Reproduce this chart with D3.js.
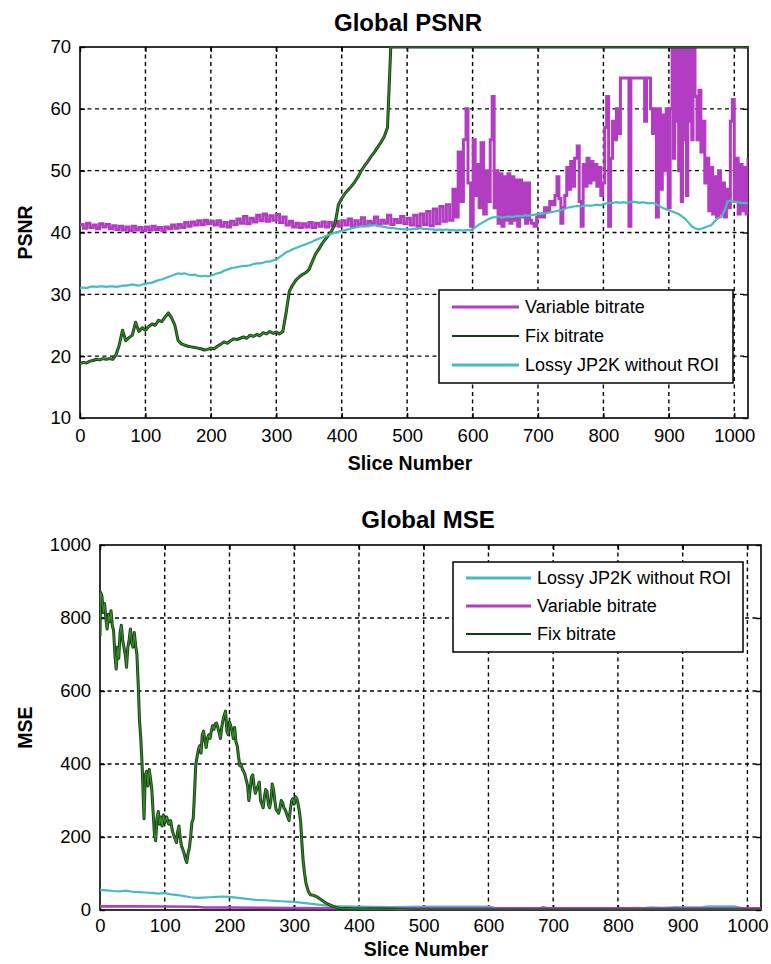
<!DOCTYPE html>
<html>
<head>
<meta charset="utf-8">
<script src="https://cdn.jsdelivr.net/npm/d3@7"></script>
<style>
  html, body { margin: 0; padding: 0; background: #fff; }
  svg { display: block; }
  text { font-family: "Liberation Sans", Arial, sans-serif; fill: #000; }
</style>
</head>
<body>
<svg id="chart" width="771" height="964"></svg>
<script>
// ---------------- DATA ----------------
const sliceTicks = [0, 100, 200, 300, 400, 500, 600, 700, 800, 900, 1000];
const psnrTicks = [10, 20, 30, 40, 50, 60, 70];
const mseTicks = [0, 200, 400, 600, 800, 1000];
const sliceDomain = [0, 1021];

// Global PSNR: [slice, PSNR dB]
const varPSNR = [
  [0,41.3],[5,40.7],[10,41.5],[15,40.8],[20,41.2],[25,40.6],[30,41.4],[35,40.9],[40,41.3],[45,40.6],
  [50,41.1],[55,40.5],[60,41.0],[65,40.4],[70,40.9],[75,40.3],[80,41.0],[85,40.4],[90,40.8],[95,40.3],
  [100,40.9],[105,40.4],[110,41.0],[115,40.5],[120,40.8],[125,40.3],[130,40.9],[135,40.6],[140,41.2],[145,40.7],
  [150,41.3],[155,40.8],[160,41.6],[165,41.0],[170,41.7],[175,41.2],[180,41.9],[185,41.3],[190,42.0],[195,41.4],
  [200,41.8],[205,41.2],[210,41.9],[215,41.0],[220,41.6],[225,40.9],[230,41.8],[235,41.3],[240,42.2],[245,41.5],
  [250,42.6],[255,41.4],[260,42.3],[265,41.7],[270,42.8],[275,41.9],[280,43.0],[285,41.8],[290,42.7],[295,42.0],
  [300,42.9],[305,41.6],[310,42.5],[315,41.2],[320,41.8],[325,40.9],[330,41.5],[335,40.8],[340,41.4],[345,40.9],
  [350,41.6],[355,40.8],[360,41.5],[365,41.0],[370,41.7],[375,40.9],[380,41.6],[385,41.1],[390,41.8],[395,41.0],
  [400,41.9],[405,41.2],[410,42.2],[415,41.0],[420,41.9],[425,41.3],[430,42.4],[435,41.1],[440,41.8],[445,41.4],
  [450,42.5],[455,41.2],[460,42.0],[465,41.5],[470,42.8],[475,41.3],[480,42.1],[485,41.6],[490,42.6],[495,41.4],
  [500,42.3],[505,41.2],[510,42.8],[515,41.0],[520,43.0],[525,41.3],[530,43.4],[535,41.1],[540,43.8],[545,41.4],
  [550,44.2],[555,41.8],[560,44.5],[565,42.0],[570,47.0],[574,42.5],[578,53.0],[582,45.0],[586,55.0],[590,60.0],
  [593,48.0],[597,41.0],[601,55.0],[604,46.0],[607,51.0],[610,44.0],[613,54.5],[617,43.0],[621,50.0],[624,45.0],
  [627,55.0],[630,62.0],[633,44.0],[636,50.0],[639,41.5],[642,49.5],[645,41.0],[648,49.0],[651,42.0],[654,49.5],
  [657,41.5],[660,49.0],[663,42.0],[666,48.5],[669,41.0],[672,48.5],[675,42.5],[678,48.0],[681,41.5],[684,48.0],
  [687,42.0],[690,41.5],[694,41.0],[698,42.5],[702,43.0],[706,42.5],[710,44.0],[714,43.5],[718,45.0],[722,44.5],
  [726,46.0],[729,49.0],[732,45.5],[735,41.5],[738,44.0],[741,46.0],[744,50.5],[747,47.0],[750,51.5],[753,47.5],
  [756,52.0],[760,54.0],[763,45.0],[766,41.0],[769,51.0],[772,47.5],[775,52.0],[778,48.0],[781,51.5],[784,48.5],
  [787,51.0],[790,47.5],[793,50.5],[796,46.0],[799,48.0],[802,57.0],[805,62.0],[808,41.0],[811,52.0],[814,58.0],
  [817,55.0],[820,60.0],[823,56.0],[826,65.0],[836,65.0],[839,41.0],[842,65.0],[860,65.0],[863,58.0],[866,65.0],
  [869,65.0],[872,60.0],[875,56.0],[878,60.0],[881,42.5],[884,60.0],[887,47.0],[890,59.0],[893,50.0],[896,60.0],
  [899,44.0],[902,60.0],[905,70.0],[907,52.0],[909,70.0],[911,58.0],[913,70.0],[915,50.0],[917,70.0],[919,45.0],
  [921,70.0],[923,55.0],[925,70.0],[927,46.0],[929,70.0],[931,58.0],[933,70.0],[935,55.0],[937,70.0],[940,62.0],
  [943,55.0],[946,63.0],[949,53.0],[952,58.0],[955,48.0],[958,52.0],[961,43.5],[964,50.5],[967,43.0],[970,49.0],
  [973,42.5],[976,50.0],[979,43.0],[982,48.0],[985,42.5],[988,47.0],[991,44.0],[994,58.0],[997,61.5],[1000,45.0],
  [1003,52.0],[1006,43.0],[1009,51.0],[1012,43.5],[1015,50.5],[1018,43.0],[1021,52.0]
];

const fixPSNR = [
  [0,18.8],[5,19.0],[10,18.9],[15,19.2],[20,19.3],[25,19.5],[30,19.4],[35,19.6],[40,19.5],[45,19.6],
  [50,19.5],[55,20.2],[60,21.8],[65,24.2],[70,22.5],[75,23.0],[80,23.4],[85,25.5],[90,24.0],[95,24.6],
  [100,24.2],[105,24.8],[110,25.2],[115,25.0],[120,25.8],[125,25.6],[130,26.3],[135,27.0],[140,26.2],[145,25.0],
  [150,22.5],[155,22.0],[160,21.8],[165,21.6],[170,21.5],[175,21.4],[180,21.3],[185,21.2],[190,21.0],[195,21.1],
  [200,21.3],[205,21.2],[210,21.6],[215,21.9],[220,22.3],[225,22.1],[230,22.5],[235,22.8],[240,22.7],[245,22.9],
  [250,23.1],[255,22.9],[260,23.4],[265,23.2],[270,23.5],[275,23.3],[280,23.8],[285,23.6],[290,24.0],[295,23.7],
  [300,23.9],[305,23.6],[310,24.0],[315,27.0],[320,30.5],[325,31.5],[330,32.3],[335,32.8],[340,33.2],[345,33.5],
  [350,34.0],[355,35.3],[360,36.5],[365,37.3],[370,38.2],[375,38.9],[380,39.6],[385,40.3],[390,41.5],[395,44.5],
  [400,45.5],[405,46.3],[410,46.9],[415,47.5],[420,48.2],[425,49.0],[430,50.0],[435,50.8],[440,51.5],[445,52.3],
  [450,53.0],[455,53.8],[460,54.6],[465,55.5],[470,57.0],[475,70.0],[1021,70.0]
];

const lossyPSNR = [
  [0,31.0],[5,31.1],[10,31.0],[15,31.2],[20,31.3],[25,31.2],[30,31.3],[35,31.3],[40,31.2],[45,31.3],
  [50,31.3],[55,31.2],[60,31.3],[65,31.4],[70,31.4],[75,31.5],[80,31.6],[85,31.5],[90,31.4],[95,31.6],
  [100,31.7],[105,31.8],[110,31.9],[115,32.1],[120,32.3],[125,32.4],[130,32.6],[135,32.8],[140,33.0],[145,33.2],
  [150,33.4],[155,33.3],[160,33.4],[165,33.2],[170,33.1],[175,33.2],[180,33.0],[185,32.9],[190,33.0],[195,32.9],
  [200,33.0],[205,33.2],[210,33.4],[215,33.5],[220,33.8],[225,34.0],[230,34.2],[235,34.3],[240,34.4],[245,34.5],
  [250,34.6],[255,34.6],[260,34.7],[265,34.9],[270,35.0],[275,35.0],[280,35.1],[285,35.3],[290,35.3],[295,35.5],
  [300,35.6],[305,36.0],[310,36.4],[315,36.8],[320,37.0],[325,37.3],[330,37.5],[335,37.7],[340,37.9],[345,38.1],
  [350,38.3],[355,38.5],[360,38.8],[365,39.0],[370,39.2],[375,39.4],[380,39.6],[385,39.8],[390,40.0],[395,40.1],
  [400,40.3],[405,40.4],[410,40.5],[415,40.7],[420,40.8],[425,40.9],[430,41.0],[435,41.0],[440,41.1],[445,41.1],
  [450,41.2],[455,41.1],[460,41.0],[465,40.9],[470,40.8],[475,40.7],[480,40.7],[485,40.6],[490,40.6],[495,40.5],
  [500,40.5],[505,40.5],[510,40.6],[515,40.6],[520,40.7],[525,40.6],[530,40.6],[535,40.5],[540,40.5],[545,40.4],
  [550,40.5],[555,40.4],[560,40.5],[565,40.4],[570,40.4],[575,40.3],[580,40.4],[585,40.3],[590,40.4],[595,40.4],
  [600,40.5],[605,40.9],[610,41.3],[615,41.6],[620,41.9],[625,42.2],[630,42.4],[635,42.5],[640,42.6],[645,42.4],
  [650,42.5],[655,42.6],[660,42.5],[665,42.6],[670,42.7],[675,42.6],[680,42.8],[685,42.7],[690,42.8],[695,42.9],
  [700,43.0],[705,43.0],[710,43.1],[715,43.2],[720,43.3],[725,43.4],[730,43.5],[735,43.6],[740,43.8],[745,44.0],
  [750,44.1],[755,44.2],[760,44.3],[765,44.2],[770,44.3],[775,44.4],[780,44.3],[785,44.4],[790,44.5],[795,44.4],
  [800,44.6],[805,44.7],[810,44.8],[815,44.8],[820,44.9],[825,44.8],[830,44.9],[835,44.8],[840,44.9],[845,45.0],
  [850,44.9],[855,44.8],[860,44.9],[865,44.8],[870,44.7],[875,44.8],[880,44.6],[885,44.3],[890,44.0],[895,43.8],
  [900,43.6],[905,43.4],[910,43.2],[915,43.0],[920,42.6],[925,42.2],[930,41.6],[935,41.0],[940,40.7],[945,40.5],
  [950,40.6],[955,40.8],[960,41.0],[965,41.2],[970,41.8],[975,42.3],[980,42.5],[985,43.5],[990,45.0],[995,45.2],
  [1000,45.0],[1005,44.9],[1010,44.8],[1015,44.8],[1021,44.7]
];

// Global MSE: [slice, MSE]
const fixMSE = [
  [0,750],[1,870],[3,860],[5,815],[7,840],[9,800],[11,770],[13,810],[15,790],[17,820],[19,780],[21,765],
  [23,700],[25,660],[27,720],[29,690],[31,760],[33,780],[35,740],[37,720],[39,700],[41,665],[43,720],[45,740],
  [47,770],[49,730],[51,720],[53,760],[55,725],[57,700],[59,620],[61,520],[63,470],[65,400],[67,300],[68,250],
  [70,370],[72,380],[74,340],[76,385],[78,360],[80,330],[82,270],[84,210],[86,190],[88,250],[90,270],[92,235],
  [94,255],[96,230],[98,260],[100,240],[103,255],[106,235],[109,245],[112,215],[115,200],[118,185],[120,215],
  [122,230],[124,195],[126,175],[128,165],[130,155],[132,140],[134,130],[136,155],[138,170],[140,200],[142,240],
  [144,250],[146,320],[148,400],[150,420],[152,440],[154,450],[156,430],[158,480],[160,490],[162,465],[164,445],
  [166,470],[168,480],[170,470],[172,490],[174,505],[176,495],[178,510],[180,512],[182,500],[184,485],[186,470],
  [188,500],[190,520],[192,535],[194,545],[196,490],[198,480],[200,515],[202,505],[204,490],[206,470],[208,500],
  [210,460],[212,450],[214,420],[216,395],[218,400],[220,385],[222,380],[224,370],[226,355],[228,340],[230,300],
  [232,330],[234,365],[236,370],[238,340],[240,320],[242,330],[244,340],[246,350],[248,300],[250,290],[252,280],
  [254,310],[256,330],[258,325],[260,290],[262,280],[264,300],[266,345],[268,330],[270,300],[272,275],[274,270],
  [276,265],[278,280],[280,300],[282,295],[284,280],[286,275],[288,265],[290,255],[292,245],[294,275],[296,300],
  [298,305],[300,290],[302,310],[304,305],[306,290],[308,270],[310,240],[312,180],[314,130],[316,100],[318,75],
  [320,62],[322,50],[325,42],[330,40],[335,36],[340,30],[345,24],[350,18],[355,14],[360,10],[365,7],[370,5],
  [380,4],[390,3],[400,3],[420,2.5],[450,2],[470,1],[475,0],[1021,0]
];

const varMSE = [
  [0,10],[50,10],[100,9.5],[150,9],[160,7],[200,7],[250,6],[300,5.5],[350,5],[400,5],[450,5],
  [500,4.5],[600,4.5],[680,5],[685,7],[690,5],[800,4.5],[900,4.5],[1021,4.5]
];

const lossyMSE = [
  [0,55],[10,54],[20,52],[30,51],[40,53],[50,50],[60,49],[70,48],[80,47],[90,45],[100,46],[110,43],
  [120,41],[130,38],[140,35],[150,33],[160,34],[170,35],[180,36],[190,37],[200,36],[210,34],[220,32],
  [230,30],[240,28],[250,27],[260,26],[270,25],[280,24],[290,23],[300,22],[310,20],[320,18],[330,16],
  [340,14],[350,12],[360,11],[380,10],[400,9],[450,8],[500,9],[550,9],[600,9],[610,6],[650,5],[700,5],
  [750,5],[800,5],[830,6],[840,5],[850,7],[870,6],[890,8],[900,7],[930,8],[940,10],[980,10],[990,6],[1021,5]
];

const seriesNames = { variable: "Variable bitrate", fix: "Fix bitrate", lossy: "Lossy JP2K without ROI" };

// ---------------- STYLES ----------------
const COLORS = { variable: "#b23cc2", fixOuter: "#123d12", fixInner: "#3a8c2c", lossy: "#45bdbf" };
const FONT_TICK = 18.5, FONT_LABEL = 19.5, FONT_TITLE = 24, FONT_LEGEND = 18;

const svg = d3.select("#chart");

function drawPanel(cfg) {
  const { id, left, right, top, bottom, yDomain, yTicks, title, titleX, titleY, yLabel, yLabelX, xLabelX, xLabelY, tickPad, series, legend } = cfg;
  const x = d3.scaleLinear().domain(sliceDomain).range([left, right]);
  const y = d3.scaleLinear().domain(yDomain).range([bottom, top]);
  const g = svg.append("g");

  // grid
  const grid = g.append("g").attr("stroke", "#000").attr("stroke-width", 1.4).attr("stroke-dasharray", "4,3.5");
  grid.selectAll("line.v").data(sliceTicks.filter(t => t > sliceDomain[0] && t < sliceDomain[1]))
    .join("line").attr("x1", d => x(d)).attr("x2", d => x(d)).attr("y1", top).attr("y2", bottom);
  grid.selectAll("line.h").data(yTicks.filter(t => t > yDomain[0] && t < yDomain[1]))
    .join("line").attr("class", "h").attr("x1", left).attr("x2", right).attr("y1", d => y(d)).attr("y2", d => y(d));

  // axes
  g.append("g").attr("transform", `translate(0,${bottom})`)
    .call(d3.axisBottom(x).tickValues(sliceTicks).tickSize(-5).tickPadding(tickPad).tickFormat(d3.format("d")));
  g.append("g").attr("transform", `translate(${left},0)`)
    .call(d3.axisLeft(y).tickValues(yTicks).tickSize(-5).tickPadding(9).tickFormat(d3.format("d")));
  g.append("g").attr("transform", `translate(${right},0)`)
    .call(d3.axisRight(y).tickValues(yTicks).tickSize(-5).tickFormat(""));
  g.append("g").attr("transform", `translate(0,${top})`)
    .call(d3.axisTop(x).tickValues(sliceTicks).tickSize(-5).tickFormat(""));
  g.selectAll(".domain").remove();
  g.selectAll(".tick line").attr("stroke", "#000").attr("stroke-width", 1.4);
  g.selectAll(".tick text").attr("font-size", FONT_TICK).attr("font-family", "Liberation Sans, Arial, sans-serif").attr("fill", "#000");

  // box
  g.append("rect").attr("x", left).attr("y", top).attr("width", right - left).attr("height", bottom - top)
    .attr("fill", "none").attr("stroke", "#000").attr("stroke-width", 1.6);

  // clip
  svg.append("clipPath").attr("id", "clip-" + id).append("rect")
    .attr("x", left).attr("y", top).attr("width", right - left).attr("height", bottom - top);
  const plot = g.append("g").attr("clip-path", `url(#clip-${id})`);
  const line = d3.line().x(d => x(d[0])).y(d => y(Math.min(d[1], yDomain[1] + 1)));
  const stepLine = d3.line().curve(d3.curveStepAfter).x(d => x(d[0])).y(d => y(Math.min(d[1], yDomain[1] + 1)));

  series.forEach(s => {
    if (s.key === "fix") {
      plot.append("path").datum(s.data).attr("d", line).attr("fill", "none")
        .attr("stroke", COLORS.fixOuter).attr("stroke-width", 3).attr("stroke-linejoin", "round");
      plot.append("path").datum(s.data).attr("d", line).attr("fill", "none")
        .attr("stroke", COLORS.fixInner).attr("stroke-width", 1.2).attr("stroke-linejoin", "round");
    } else {
      plot.append("path").datum(s.data).attr("d", s.step ? stepLine : line).attr("fill", "none")
        .attr("stroke", COLORS[s.key]).attr("stroke-width", s.width).attr("stroke-linejoin", "miter");
    }
  });

  // titles
  g.append("text").attr("x", titleX).attr("y", titleY).attr("text-anchor", "middle")
    .attr("font-size", FONT_TITLE).attr("font-weight", "bold").text(title);
  g.append("text").attr("x", xLabelX).attr("y", xLabelY).attr("text-anchor", "middle")
    .attr("font-size", FONT_LABEL).attr("font-weight", "bold").text("Slice Number");
  g.append("text").attr("transform", `translate(${yLabelX},${(top + bottom) / 2}) rotate(-90)`)
    .attr("text-anchor", "middle").attr("font-size", FONT_LABEL).attr("font-weight", "bold").text(yLabel);

  // legend
  const lg = g.append("g");
  lg.append("rect").attr("x", legend.x).attr("y", legend.y).attr("width", legend.w).attr("height", legend.h)
    .attr("fill", "#fff").attr("stroke", "#000").attr("stroke-width", 1.5);
  legend.keys.forEach((k, i) => {
    const cy = legend.y + legend.firstRow + i * legend.rowGap;
    const col = k === "fix" ? COLORS.fixOuter : COLORS[k];
    lg.append("line").attr("x1", legend.x + legend.lineStart).attr("x2", legend.x + legend.lineEnd)
      .attr("y1", cy).attr("y2", cy).attr("stroke", col).attr("stroke-width", k === "fix" ? 2.2 : 2.8);
    lg.append("text").attr("x", legend.x + legend.textStart).attr("y", cy).attr("dy", "0.36em")
      .attr("font-size", FONT_LEGEND).text(seriesNames[k]);
  });
}

drawPanel({
  id: "psnr", left: 80, right: 748, top: 47, bottom: 418,
  yDomain: [10, 70], yTicks: psnrTicks,
  title: "Global PSNR", titleX: 408, titleY: 31,
  yLabel: "PSNR", yLabelX: 32, xLabelX: 410, xLabelY: 470, tickPad: 11,
  series: [
    { key: "variable", data: varPSNR, width: 3, step: true },
    { key: "fix", data: fixPSNR },
    { key: "lossy", data: lossyPSNR, width: 2.2 }
  ],
  legend: { x: 439, y: 290, w: 294, h: 93, firstRow: 17, rowGap: 29, lineStart: 13, lineEnd: 80, textStart: 86,
            keys: ["variable", "fix", "lossy"] }
});

drawPanel({
  id: "mse", left: 100, right: 761, top: 545, bottom: 910,
  yDomain: [0, 1000], yTicks: mseTicks,
  title: "Global MSE", titleX: 428, titleY: 528,
  yLabel: "MSE", yLabelX: 32, xLabelX: 426, xLabelY: 956, tickPad: 9,
  series: [
    { key: "lossy", data: lossyMSE, width: 2.2 },
    { key: "variable", data: varMSE, width: 2.6 },
    { key: "fix", data: fixMSE }
  ],
  legend: { x: 453, y: 562, w: 290, h: 90, firstRow: 16, rowGap: 28, lineStart: 13, lineEnd: 78, textStart: 84,
            keys: ["lossy", "variable", "fix"] }
});
</script>
</body>
</html>
